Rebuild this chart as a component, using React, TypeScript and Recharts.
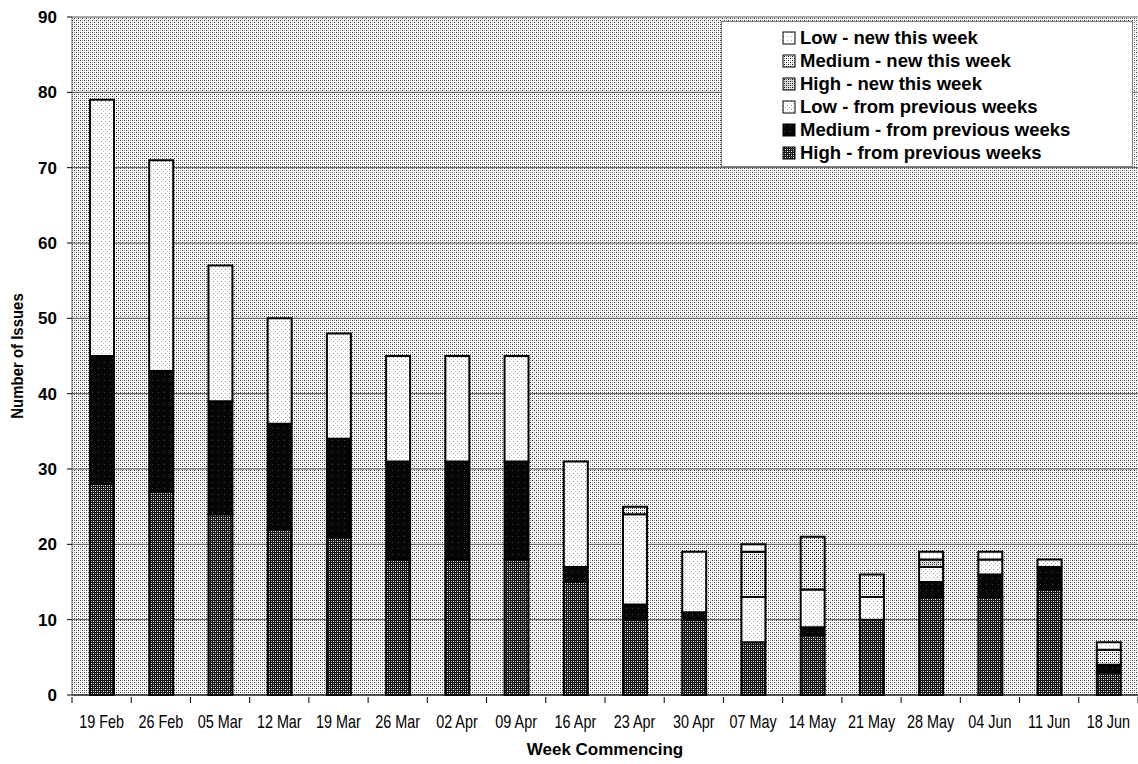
import React from 'react';
import { BarChart, Bar, XAxis, YAxis, CartesianGrid, Legend } from 'recharts';

const weeks = ['19 Feb', '26 Feb', '05 Mar', '12 Mar', '19 Mar', '26 Mar', '02 Apr', '09 Apr', '16 Apr', '23 Apr', '30 Apr', '07 May', '14 May', '21 May', '28 May', '04 Jun', '11 Jun', '18 Jun'];
const highPrev = [28, 27, 24, 22, 21, 18, 18, 18, 15, 10, 10, 7, 8, 10, 13, 13, 14, 3];
const mediumPrev = [17, 16, 15, 14, 13, 13, 13, 13, 2, 2, 1, 0, 1, 0, 2, 3, 3, 1];
const lowPrev = [34, 28, 18, 14, 14, 14, 14, 14, 14, 12, 8, 6, 5, 3, 2, 2, 1, 0];
const highNew = [0, 0, 0, 0, 0, 0, 0, 0, 0, 0, 0, 0, 0, 0, 1, 0, 0, 0];
const mediumNew = [0, 0, 0, 0, 0, 0, 0, 0, 0, 1, 0, 6, 7, 3, 0, 0, 0, 2];
const lowNew = [0, 0, 0, 0, 0, 0, 0, 0, 0, 0, 0, 1, 0, 0, 1, 1, 0, 1];
const yTicks = [0, 10, 20, 30, 40, 50, 60, 70, 80, 90];

const data = weeks.map((week, i) => ({
  week,
  highPrev: highPrev[i],
  mediumPrev: mediumPrev[i],
  lowPrev: lowPrev[i],
  highNew: highNew[i],
  mediumNew: mediumNew[i],
  lowNew: lowNew[i],
}));

// legend order, top to bottom (reverse of the stack)
const series = [
  { key: 'lowNew', name: 'Low - new this week', pat: 'patLowNew' },
  { key: 'mediumNew', name: 'Medium - new this week', pat: 'patMedNew' },
  { key: 'highNew', name: 'High - new this week', pat: 'patHighNew' },
  { key: 'lowPrev', name: 'Low - from previous weeks', pat: 'patLowPrev' },
  { key: 'mediumPrev', name: 'Medium - from previous weeks', pat: 'patMedPrev' },
  { key: 'highPrev', name: 'High - from previous weeks', pat: 'patHighPrev' },
];
const stackOrder = [...series].reverse();

const wide = '"Liberation Sans", Arial, sans-serif';

const XTick = (props: any) => {
  const { x, y, payload, index } = props;
  const off = payload && payload.offset ? payload.offset : 0;
  const ty = y + 25;
  return (
    <g>
      <line x1={x - off} x2={x - off} y1={y - 6} y2={y} stroke="#000" />
      {index === weeks.length - 1 && off ? <line x1={x + off} x2={x + off} y1={y - 6} y2={y} stroke="#000" /> : null}
      <text x={x} y={ty} transform={`translate(${x} ${ty}) scale(0.8 1) translate(${-x} ${-ty})`} textAnchor="middle"
        fontFamily={wide} fontSize={18} fill="#000">
        {payload.value}
      </text>
    </g>
  );
};

const YLabel = (props: any) => {
  const vb = props.viewBox || {};
  const cx = (vb.x || 0) + 17;
  const cy = (vb.y || 0) + (vb.height || 0) / 2;
  return (
    <text x={cx} y={cy} transform={`rotate(-90 ${cx} ${cy}) translate(${cx} ${cy}) scale(0.88 1) translate(${-cx} ${-cy})`}
      textAnchor="middle" dominantBaseline="central" fontFamily={wide} fontWeight="bold" fontSize={17} fill="#000">
      Number of Issues
    </text>
  );
};

const LegendBox = () => (
  <div style={{ width: 412, height: 146, background: '#fff', border: '1px solid #808080', boxSizing: 'border-box', paddingTop: 4, paddingLeft: 60 }}>
    {series.map((s) => (
      <div key={s.key} style={{ display: 'flex', alignItems: 'center', height: 23 }}>
        <svg width={14} height={14} style={{ marginRight: 4 }}>
          <rect x={1} y={1} width={12} height={12} fill={`url(#${s.pat})`} stroke="#000" strokeWidth={1} />
        </svg>
        <span style={{ fontFamily: wide, fontWeight: 'bold', fontSize: 18.5, color: '#000', whiteSpace: 'nowrap' }}>{s.name}</span>
      </div>
    ))}
  </div>
);

export default function App() {
  return (
    <div style={{ position: 'absolute', left: 0, top: 0, width: 1138, height: 764, background: '#fff' }}>
      <BarChart width={1138} height={764} data={data} margin={{ top: 17, right: 0, left: 0, bottom: 0 }} barSize={24}>
        <defs>
          <pattern id="bgDots" width={4} height={4} patternUnits="userSpaceOnUse">
            <rect width={4} height={4} fill="#fff" />
            <rect x={0} y={0} width={1} height={1} fill="#333" />
            <rect x={2} y={2} width={1} height={1} fill="#333" />
            <rect x={2} y={0} width={1} height={1} fill="#aaa" />
            <rect x={0} y={2} width={1} height={1} fill="#aaa" />
          </pattern>
          <pattern id="patLowNew" width={4} height={4} patternUnits="userSpaceOnUse">
            <rect width={4} height={4} fill="#fff" />
            <rect x={1} y={1} width={1} height={1} fill="#b0b0b0" />
          </pattern>
          <pattern id="patLowPrev" width={4} height={4} patternUnits="userSpaceOnUse">
            <rect width={4} height={4} fill="#fff" />
            <rect x={1} y={1} width={1} height={1} fill="#999" />
            <rect x={3} y={3} width={1} height={1} fill="#ccc" />
          </pattern>
          <pattern id="patMedNew" width={4} height={4} patternUnits="userSpaceOnUse">
            <rect width={4} height={4} fill="#fff" />
            <rect x={0} y={0} width={1} height={1} fill="#000" />
            <rect x={2} y={2} width={1} height={1} fill="#000" />
            <rect x={2} y={0} width={1} height={1} fill="#888" />
            <rect x={0} y={2} width={1} height={1} fill="#888" />
          </pattern>
          <pattern id="patHighNew" width={4} height={4} patternUnits="userSpaceOnUse">
            <rect width={4} height={4} fill="#ddd" />
            <rect x={0} y={0} width={1} height={1} fill="#000" />
            <rect x={2} y={2} width={1} height={1} fill="#000" />
            <rect x={2} y={0} width={1} height={1} fill="#666" />
            <rect x={0} y={2} width={1} height={1} fill="#666" />
          </pattern>
          <pattern id="patMedPrev" width={6} height={6} patternUnits="userSpaceOnUse">
            <rect width={6} height={6} fill="#050505" />
            <rect x={2} y={2} width={1} height={1} fill="#444" />
          </pattern>
          <pattern id="patHighPrev" width={4} height={4} patternUnits="userSpaceOnUse">
            <rect width={4} height={4} fill="#151515" />
            <rect x={1} y={1} width={1} height={1} fill="#fff" />
            <rect x={3} y={3} width={1} height={1} fill="#fff" />
            <rect x={1} y={3} width={1} height={1} fill="#999" />
            <rect x={3} y={1} width={1} height={1} fill="#999" />
          </pattern>
        </defs>
        <CartesianGrid vertical={false} stroke="#555" fill="url(#bgDots)" fillOpacity={1} />
        <XAxis dataKey="week" height={69} axisLine={{ stroke: '#000' }} tickLine={false} tick={<XTick />} interval={0}
          label={{ value: 'Week Commencing', position: 'insideBottom', offset: 9, style: { fontFamily: wide, fontWeight: 'bold', fontSize: 17, fill: '#000' } }} />
        <YAxis width={72} domain={[0, 90]} ticks={yTicks} interval={0} axisLine={{ stroke: '#666' }} tickLine={{ stroke: '#000' }}
          tickSize={5} tickMargin={10} tick={{ fontFamily: wide, fontWeight: 'bold', fontSize: 17, fill: '#000' }} label={<YLabel />} />
        <Legend layout="horizontal" verticalAlign="middle" align="center" content={<LegendBox />}
          wrapperStyle={{ position: 'absolute', top: 21, left: 721, width: 412, height: 146 }} />
        {stackOrder.map((s) => (
          <Bar key={s.key} dataKey={s.key} name={s.name} stackId="a" fill={`url(#${s.pat})`} stroke="#000" strokeWidth={2} isAnimationActive={false} />
        ))}
      </BarChart>
    </div>
  );
}
